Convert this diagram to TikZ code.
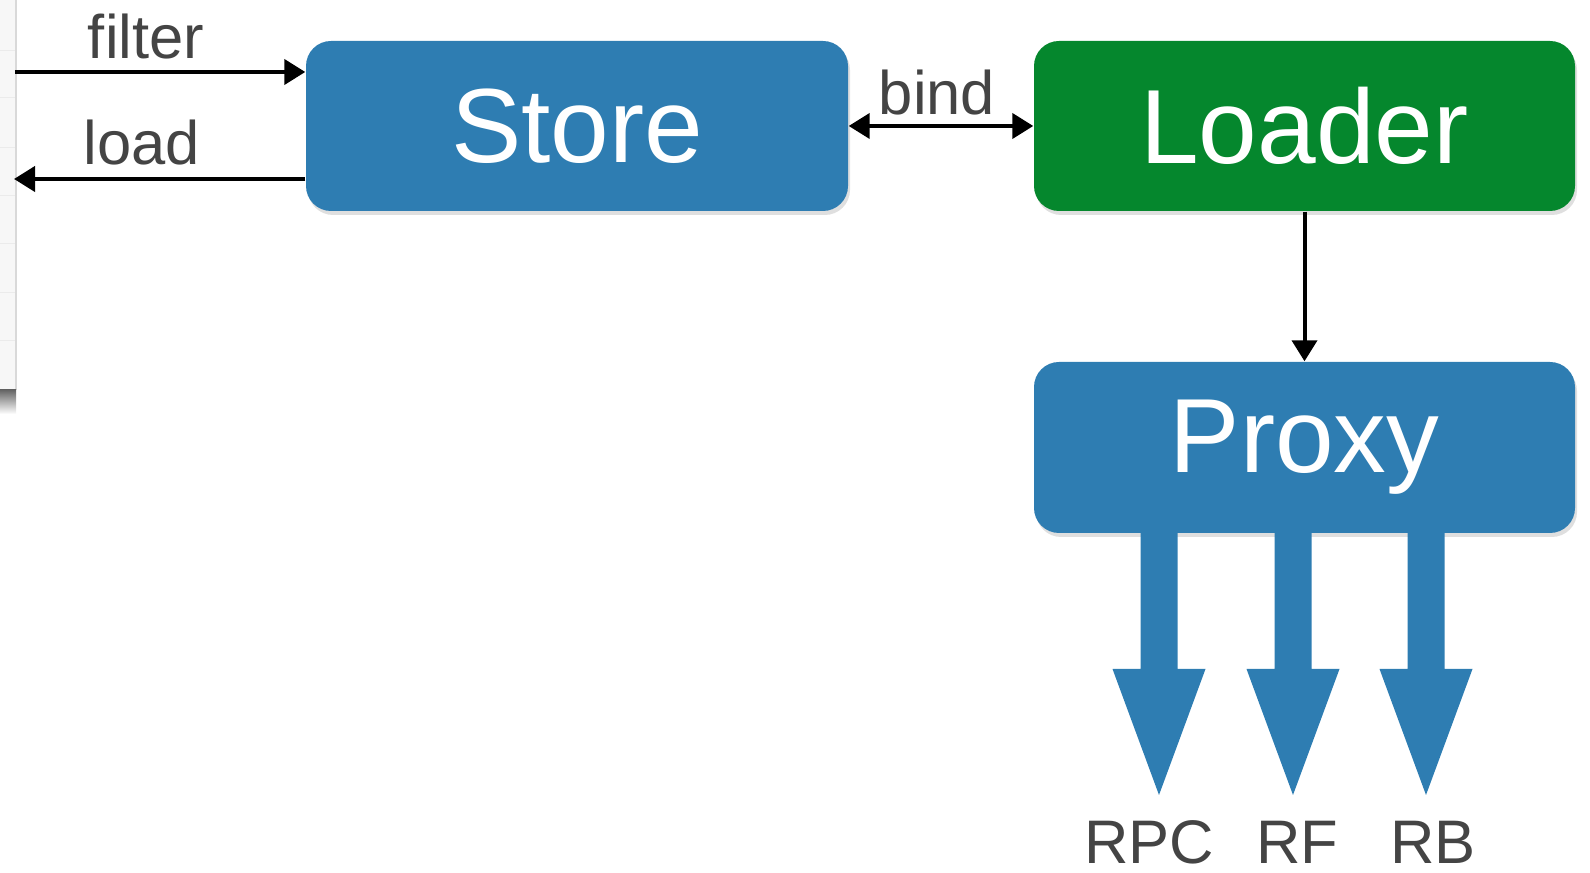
\documentclass[tikz,border=0pt]{standalone}
\usepackage{fontspec}
\setmainfont{Liberation Sans}
\usetikzlibrary{arrows.meta, positioning, shadows}

\definecolor{storeblue}{RGB}{46,125,178}
\definecolor{loadgreen}{RGB}{5,135,45}
\definecolor{labelgray}{RGB}{68,68,68}

\tikzset{
  box/.style={rectangle, rounded corners=0.25cm, minimum width=5.42cm, minimum height=1.70cm,
    text=white, font=\fontsize{30}{30}\selectfont,
    drop shadow={opacity=0.25, shadow xshift=0.02cm, shadow yshift=-0.04cm}},
  lbl/.style={text=labelgray, font=\fontsize{17.5}{17.5}\selectfont, inner sep=0pt},
  link/.style={line width=0.04cm, -{Triangle[length=0.21cm, width=0.25cm]}}
}

\begin{document}
\begin{tikzpicture}
\useasboundingbox (0,0) rectangle (15.9,-8.73);

% window edge on the left
\fill[black!3] (0,0) rectangle (0.16,-3.90);
\foreach \y in {0.50,0.97,1.47,1.95,2.43,2.92,3.40}
  \draw[black!8, very thin] (0,-\y) -- (0.16,-\y);
\draw[black!15, thin] (0.16,0) -- (0.16,-3.90);
\shade[top color=black!60, bottom color=white] (0,-3.90) rectangle (0.16,-4.14);

% boxes
\node[box, fill=storeblue] (store) at (5.77,-1.26) {Store};
\node[box, fill=loadgreen, minimum width=5.41cm] (loader) at (13.045,-1.26) {Loader};
\node[box, fill=storeblue, minimum width=5.41cm, minimum height=1.71cm] (proxy) at (13.045,-4.475) {Proxy};

% filter and load
\coordinate (filterin) at (0.15,-0.72);
\coordinate (loadout) at (0.14,-1.79);
\draw[link] (filterin) -- (filterin -| store.west);
\draw[link] (loadout -| store.west) -- (loadout);
\node[lbl, anchor=base] (filterlbl) at (1.46,-0.59) {filter};
\node[lbl, anchor=base] (loadlbl) at (1.42,-1.65) {load};

% bind
\draw[link, {Triangle[length=0.21cm, width=0.25cm]}-{Triangle[length=0.21cm, width=0.25cm]}] (store) -- (loader);
\node[lbl, anchor=base] (bindlbl) at (9.37,-1.15) {bind};

% loader to proxy
\draw[link] (loader) -- (proxy);

% outputs
\foreach \x/\lx/\name/\txt in {11.59/11.49/rpc/RPC, 12.93/12.97/rf/RF, 14.26/14.33/rb/RB} {
  \fill[storeblue] (\x-0.185,-5.30) -- (\x-0.185,-6.69) -- (\x-0.465,-6.69) -- (\x,-7.95)
    -- (\x+0.465,-6.69) -- (\x+0.185,-6.69) -- (\x+0.185,-5.30) -- cycle;
  \node[lbl, anchor=base] (\name) at (\lx,-8.64) {\txt};
}

\end{tikzpicture}
\end{document}
